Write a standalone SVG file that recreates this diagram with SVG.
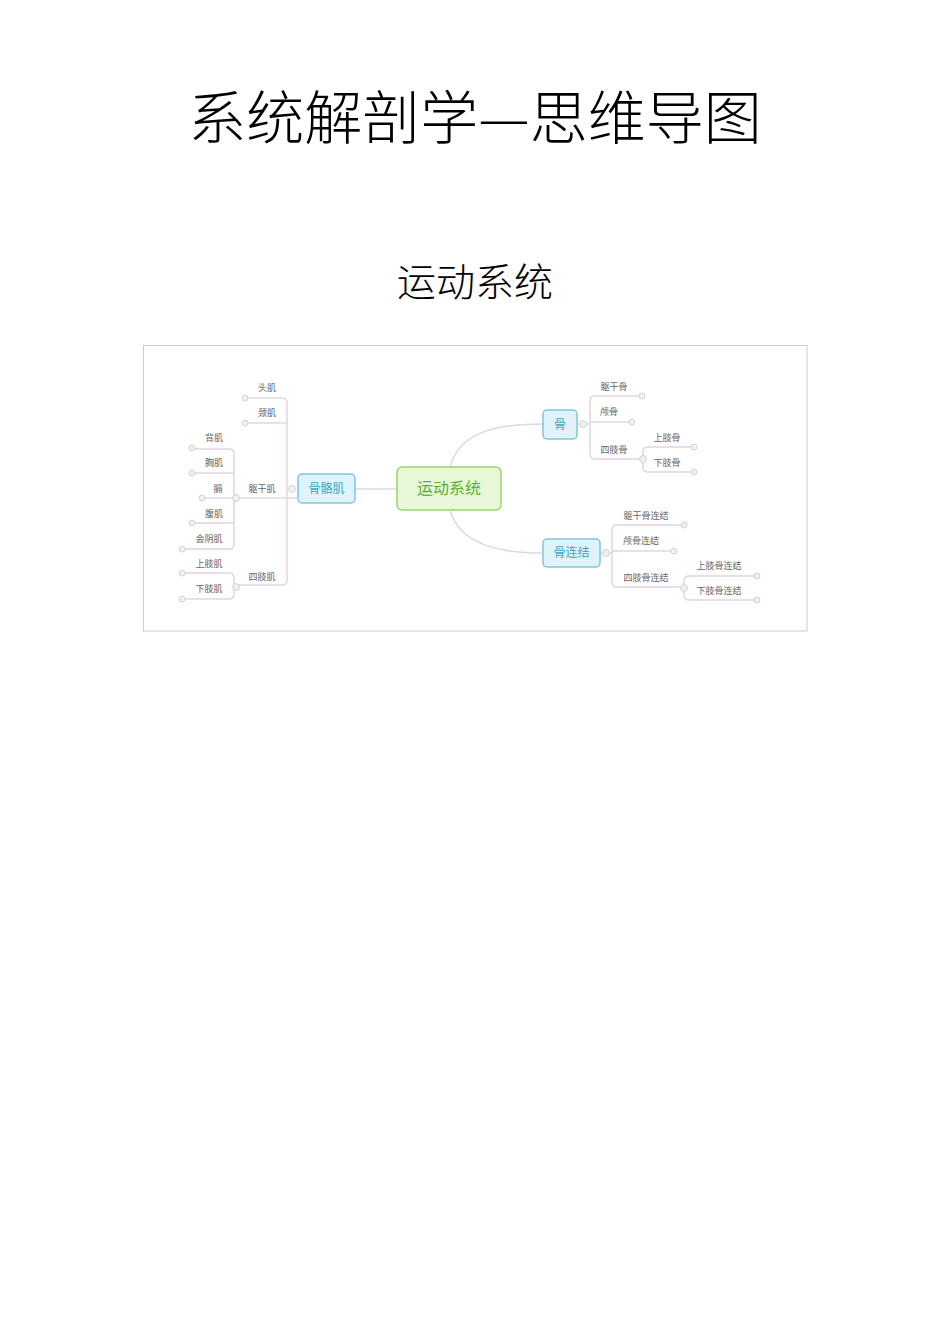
<svg xmlns="http://www.w3.org/2000/svg" width="950" height="1344" viewBox="0 0 950 1344">
<style>
.t{font-family:"Noto Sans CJK SC",sans-serif;fill:#000;font-weight:300}
.s{font-family:"Noto Sans CJK SC",sans-serif;font-size:9px;fill:#666;text-anchor:middle}
.c{fill:none;stroke:#e2d6e0;stroke-width:1.5}
.p{fill:#f0f0f0;stroke:#ccc;stroke-width:0.8}
.b{fill:#dff3fa;stroke:#7cc8de;stroke-width:1.5}
.bt{font-family:"Noto Sans CJK SC",sans-serif;font-size:12px;fill:#3aa8c8;text-anchor:middle}
</style>
<rect width="950" height="1344" fill="#fff"/>
<text class="t" x="475" y="139" font-size="58" text-anchor="middle">系统解剖学—思维导图</text>
<text class="t" x="475" y="296" font-size="39" text-anchor="middle">运动系统</text>
<rect x="143.5" y="345.5" width="663.5" height="285.5" fill="#fff" stroke="#ccc"/>
<g id="connectors">
<path class="c" d="M355 489 H397"/>
<path class="c" d="M450 467 C460 430 500 424 543 424"/>
<path class="c" d="M450 510 C460 545 500 553 543 553"/>
<path class="c" d="M245 398 H282 Q287 398 287 403 V580 Q287 585 282 585 H236"/>
<path class="c" d="M245 423 H287 M236 498 H298"/>
<path class="c" d="M192 449 H229 Q234 449 234 454 V544 Q234 549 229 549 H182"/>
<path class="c" d="M192 473 H234 M202 498 H234 M192 523 H234"/>
<path class="c" d="M182 573 H229 Q234 573 234 578 V594 Q234 599 229 599 H182"/>
<path class="c" d="M642 396 H595 Q590 396 590 401 V454 Q590 459 595 459 H643"/>
<path class="c" d="M577 424 H590 M590 422 H632"/>
<path class="c" d="M694 447 H648 Q643 447 643 452 V467 Q643 472 648 472 H694"/>
<path class="c" d="M684 525 H617 Q612 525 612 530 V582 Q612 587 617 587 H684"/>
<path class="c" d="M600 553 H612 M612 551 H674"/>
<path class="c" d="M757 576 H689 Q684 576 684 581 V595 Q684 600 689 600 H757"/>
</g>
<g id="center"><rect x="397" y="467" width="104" height="43" rx="5" fill="#e6f8d8" stroke="#9bd46e" stroke-width="1.5"/><text x="449" y="494" font-family="Noto Sans CJK SC,sans-serif" font-size="16" fill="#5cb030" text-anchor="middle">运动系统</text></g>
<g id="n-gugeji"><rect class="b" x="298" y="474" width="57" height="29" rx="4"/><text class="bt" x="326.5" y="493">骨骼肌</text></g>
<g id="n-gu"><rect class="b" x="543" y="410" width="34" height="29" rx="4"/><text class="bt" x="560" y="429">骨</text></g>
<g id="n-gulianjie"><rect class="b" x="543" y="539" width="57" height="28" rx="4"/><text class="bt" x="571.5" y="557">骨连结</text></g>
<g id="labels">
<text class="s" x="267" y="391">头肌</text><text class="s" x="267" y="416">颈肌</text>
<text class="s" x="262" y="492">躯干肌</text><text class="s" x="262" y="580">四肢肌</text>
<text class="s" x="214" y="441">背肌</text><text class="s" x="214" y="466">胸肌</text>
<text class="s" x="218" y="492">膈</text><text class="s" x="214" y="517">腹肌</text>
<text class="s" x="209" y="542">会阴肌</text><text class="s" x="209" y="567">上肢肌</text><text class="s" x="209" y="592">下肢肌</text>
<text class="s" x="614" y="390">躯干骨</text><text class="s" x="609" y="415">颅骨</text><text class="s" x="614" y="453">四肢骨</text>
<text class="s" x="667" y="441">上肢骨</text><text class="s" x="667" y="466">下肢骨</text>
<text class="s" x="646" y="519">躯干骨连结</text><text class="s" x="641" y="544">颅骨连结</text><text class="s" x="646" y="581">四肢骨连结</text>
<text class="s" x="719" y="569">上肢骨连结</text><text class="s" x="719" y="594">下肢骨连结</text>
</g>
<g id="toggles">
<g><circle class="p" cx="292" cy="489" r="3.5"/><circle class="p" cx="236" cy="498" r="3.5"/><circle class="p" cx="236" cy="587" r="3.5"/><circle class="p" cx="583" cy="424" r="3.5"/><circle class="p" cx="643" cy="459" r="3.5"/><circle class="p" cx="606" cy="553" r="3.5"/><circle class="p" cx="684" cy="588" r="3.5"/></g>
<g><circle class="p" cx="245" cy="398" r="3"/><circle class="p" cx="245" cy="423" r="3"/><circle class="p" cx="192" cy="448" r="3"/><circle class="p" cx="192" cy="473" r="3"/><circle class="p" cx="202" cy="498" r="3"/><circle class="p" cx="192" cy="523" r="3"/><circle class="p" cx="182" cy="549" r="3"/><circle class="p" cx="182" cy="573" r="3"/><circle class="p" cx="182" cy="599" r="3"/><circle class="p" cx="642" cy="396" r="3"/><circle class="p" cx="632" cy="422" r="3"/><circle class="p" cx="694" cy="447" r="3"/><circle class="p" cx="694" cy="472" r="3"/><circle class="p" cx="684" cy="525" r="3"/><circle class="p" cx="674" cy="551" r="3"/><circle class="p" cx="757" cy="576" r="3"/><circle class="p" cx="757" cy="600" r="3"/></g>
</g>
</svg>
